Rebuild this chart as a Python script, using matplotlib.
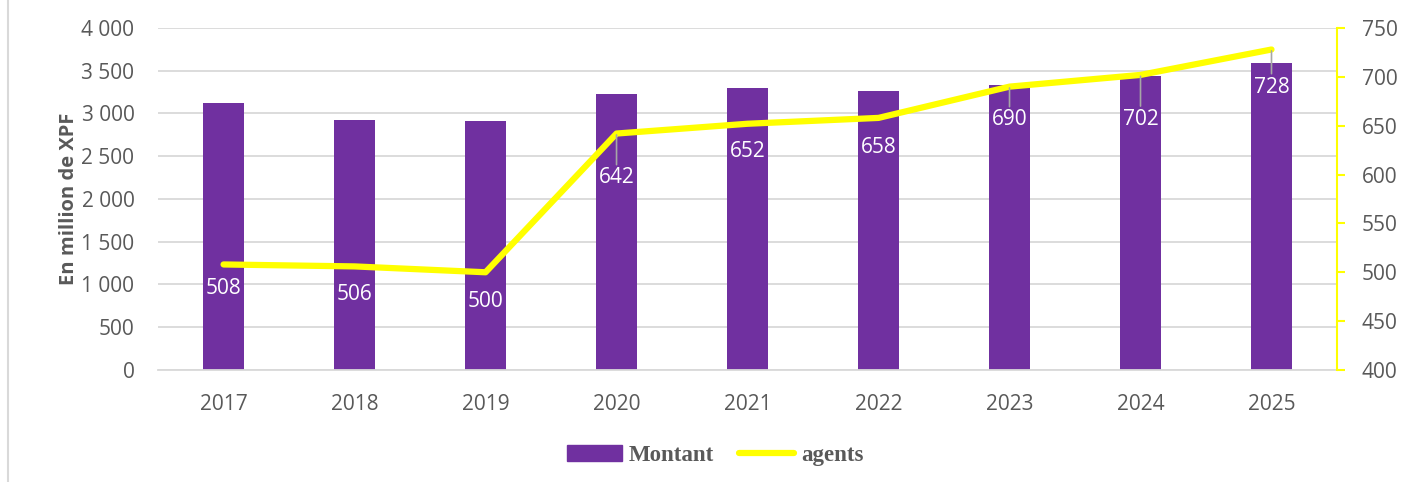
import matplotlib
matplotlib.use("Agg")
from matplotlib import pyplot as plt
from matplotlib.patches import Patch
from matplotlib.lines import Line2D
from matplotlib.ticker import FuncFormatter


years = ["2017", "2018", "2019", "2020", "2021", "2022", "2023", "2024", "2025"]
montant = [3120, 2925, 2915, 3230, 3300, 3265, 3335, 3440, 3590]
agents = [508, 506, 500, 642, 652, 658, 690, 702, 728]
# how far below the point each label sits (points)
label_drop = [17, 20, 21, 32, 20, 21, 24, 32, 27]

BAR = "#7030A0"
LINE = "#FFFF00"
GREY = "#595959"

plt.rcParams['font.family'] = ['Open Sans', 'DejaVu Sans']

"""
    Bars on the left axis, agents line on the right one
"""
def draw_chart():
    fig = plt.figure(figsize=(14.05, 4.82), dpi=100)
    ax = fig.add_axes([0.1125, 0.2324, 0.8391, 0.7095])
    x = list(range(len(years)))

    ax.bar(x, montant, width=0.31, color=BAR, zorder=2)
    ax.set_ylim(0, 4000)
    ax.set_xlim(-0.5, len(years) - 0.5)
    ax.set_yticks(range(0, 4001, 500))
    ax.yaxis.set_major_formatter(FuncFormatter(lambda v, p: f"{int(v):,}".replace(",", " ")))
    ax.set_xticks(x)
    ax.set_xticklabels(years)
    ax.grid(axis='y', color='#d9d9d9', linewidth=1.3, zorder=0)
    ax.set_axisbelow(True)
    for s in ['top', 'right', 'left']:
        ax.spines[s].set_visible(False)
    ax.spines['bottom'].set_color('#d9d9d9')
    ax.spines['bottom'].set_linewidth(1.3)
    ax.tick_params(axis='both', length=0, labelsize=15, labelcolor=GREY)
    ax.tick_params(axis='x', pad=17)
    ax.tick_params(axis='y', pad=17)
    ax.set_ylabel("En million de XPF", fontsize=14.5, fontweight='bold', color=GREY, labelpad=2)

    ax2 = ax.twinx()
    ax2.plot(x, agents, color=LINE, linewidth=4.5, solid_capstyle='round', zorder=3)
    ax2.set_ylim(400, 750)
    ax2.set_yticks(range(400, 751, 50))
    for s in ['top', 'left', 'bottom']:
        ax2.spines[s].set_visible(False)
    ax2.spines['right'].set_color(LINE)
    ax2.spines['right'].set_linewidth(1.5)
    ax2.tick_params(axis='y', length=6, width=1.5, color=LINE, labelsize=15, labelcolor=GREY, pad=12)

    for xi, v, d in zip(x, agents, label_drop):
        arrow = None
        if d >= 24:
            arrow = dict(arrowstyle='-', color='#a6a6a6', lw=1.2, shrinkA=0, shrinkB=1)
        ax2.annotate(str(v), (xi, v), xytext=(0, -d), textcoords='offset points',
                     ha='center', va='center', fontsize=15, color='white',
                     arrowprops=arrow, zorder=4)

    handles = [Patch(color=BAR), Line2D([0], [0], color=LINE, linewidth=4.5, solid_capstyle='round')]
    fig.legend(handles, ["Montant", "agents"], loc='center', bbox_to_anchor=(0.509, 0.055),
               ncol=2, frameon=False, handlelength=2.4, handletextpad=0.3, columnspacing=1.1,
               prop={'family': 'Liberation Serif', 'weight': 'bold', 'size': 16.5},
               labelcolor=GREY)

    # thin frame line at the left edge
    fig.add_artist(Line2D([0.0057, 0.0057], [0, 1], color='#d9d9d9', linewidth=1.5,
                          transform=fig.transFigure))
    return fig


fig = draw_chart()
fig.savefig("out.png", dpi=100)
